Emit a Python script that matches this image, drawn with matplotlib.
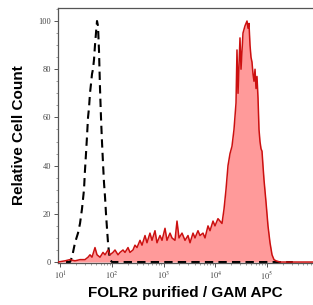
import numpy as np
import matplotlib
matplotlib.use("Agg")
import matplotlib.pyplot as plt
from matplotlib.ticker import FixedLocator, MultipleLocator

plt.rcParams["mathtext.fontset"] = "stix"

# ---- data (log10 fluorescence, relative count) ----
red_logx = [0.955, 1.090, 1.187, 1.284, 1.381, 1.477, 1.536, 1.574, 1.613, 1.671,
            1.710, 1.768, 1.826, 1.865, 1.923, 1.961, 2.019, 2.058, 2.116, 2.155,
            2.213, 2.252, 2.310, 2.348, 2.406, 2.445, 2.484, 2.542, 2.581, 2.639,
            2.677, 2.735, 2.774, 2.832, 2.871, 2.929, 2.968, 3.026, 3.064, 3.123,
            3.161, 3.219, 3.258, 3.297, 3.355, 3.413, 3.471, 3.510, 3.568, 3.606,
            3.664, 3.703, 3.761, 3.800, 3.858, 3.897, 3.955, 3.993, 4.051, 4.090,
            4.129, 4.168, 4.206, 4.245, 4.284, 4.322, 4.361, 4.400, 4.419, 4.439,
            4.477, 4.497, 4.535, 4.574, 4.613, 4.632, 4.651, 4.671, 4.690, 4.709,
            4.729, 4.748, 4.768, 4.787, 4.806, 4.826, 4.845, 4.864, 4.884, 4.903,
            4.922, 4.942, 4.980, 5.019, 5.058, 5.097, 5.135, 5.174, 5.251, 5.890]
red_count = [0, 0.5, 1, 0.5, 1, 1, 2, 3, 2, 6,
             3, 2, 4, 3, 5, 3, 4, 5, 3, 4,
             5, 4, 6, 4, 5, 7, 6, 9, 7, 11,
             8, 12, 9, 13, 8, 11, 9, 14, 9, 12,
             10, 9, 17, 10, 12, 9, 11, 8, 12, 10,
             13, 11, 12, 10, 15, 13, 17, 15, 18, 17,
             16, 22, 30, 40, 45, 48, 55, 66, 88, 70,
             93, 80, 95, 98, 100, 97, 99, 90, 85, 83,
             78, 75, 80, 72, 77, 68, 55, 50, 47, 46,
             40, 34, 25, 15, 8, 3, 1, 0.5, 0, 0]

iso_logx = [1.110, 1.187, 1.226, 1.284, 1.342, 1.381, 1.419, 1.458, 1.477, 1.497,
            1.516, 1.536, 1.555, 1.574, 1.594, 1.613, 1.632, 1.652, 1.671, 1.690,
            1.710, 1.729, 1.748, 1.768, 1.787, 1.806, 1.826, 1.845, 1.865, 1.884,
            1.903, 1.923, 1.942, 1.961, 2.000, 5.500]
iso_count = [0, 0, 2, 8, 12, 16, 22, 30, 38, 45,
             52, 60, 64, 70, 74, 78, 80, 84, 90, 95,
             100, 98, 88, 72, 60, 50, 41, 33, 27, 20,
             14, 8, 4, 1, 0, 0]

x_decades = [1, 2, 3, 4, 5, 6]
y_ticks = [0, 20, 40, 60, 80, 100]

# ---- figure ----
fig = plt.figure(figsize=(3.13, 3.05), dpi=100)
ax = fig.add_axes([58/313, 1-263/305, 1-58/313, (263-8)/305])

rx = 10 ** np.array(red_logx)
ix = 10 ** np.array(iso_logx)
ax.fill_between(rx, 0, red_count, color="#ff9a9a", lw=0, zorder=1)
ax.plot(ix, iso_count, color="black", lw=1.5, ls=(0, (4, 2.5)), zorder=2)
ax.plot(rx, red_count, color="#cc1010", lw=1.1, zorder=3)

ax.set_xscale("log")
ax.set_xlim(10 ** 0.955, 10 ** 5.89)
ax.set_ylim(-0.4, 105.4)

ax.xaxis.set_major_locator(FixedLocator([10 ** d for d in x_decades]))
ax.set_xticklabels([r"$10^{%d}$" % d for d in x_decades])
ax.yaxis.set_major_locator(FixedLocator(y_ticks))
ax.yaxis.set_minor_locator(MultipleLocator(5))

ax.spines["right"].set_visible(False)
for s in ["left", "top", "bottom"]:
    ax.spines[s].set_color("#555555")
    ax.spines[s].set_linewidth(0.9)

ax.tick_params(axis="both", which="major", length=3, width=0.7, color="#555555",
               labelsize=6, labelcolor="#444444", pad=2)
ax.tick_params(axis="both", which="minor", length=1.5, width=0.5, color="#777777")
for lab in ax.get_yticklabels():
    lab.set_fontfamily("Liberation Serif")

ax.set_xlabel("FOLR2 purified / GAM APC", fontfamily="Liberation Sans",
              fontweight="bold", fontsize=11, labelpad=3)
ax.set_ylabel("Relative Cell Count", fontfamily="Liberation Sans",
              fontweight="bold", fontsize=11, labelpad=9)

fig.savefig("out.png", dpi=100)
